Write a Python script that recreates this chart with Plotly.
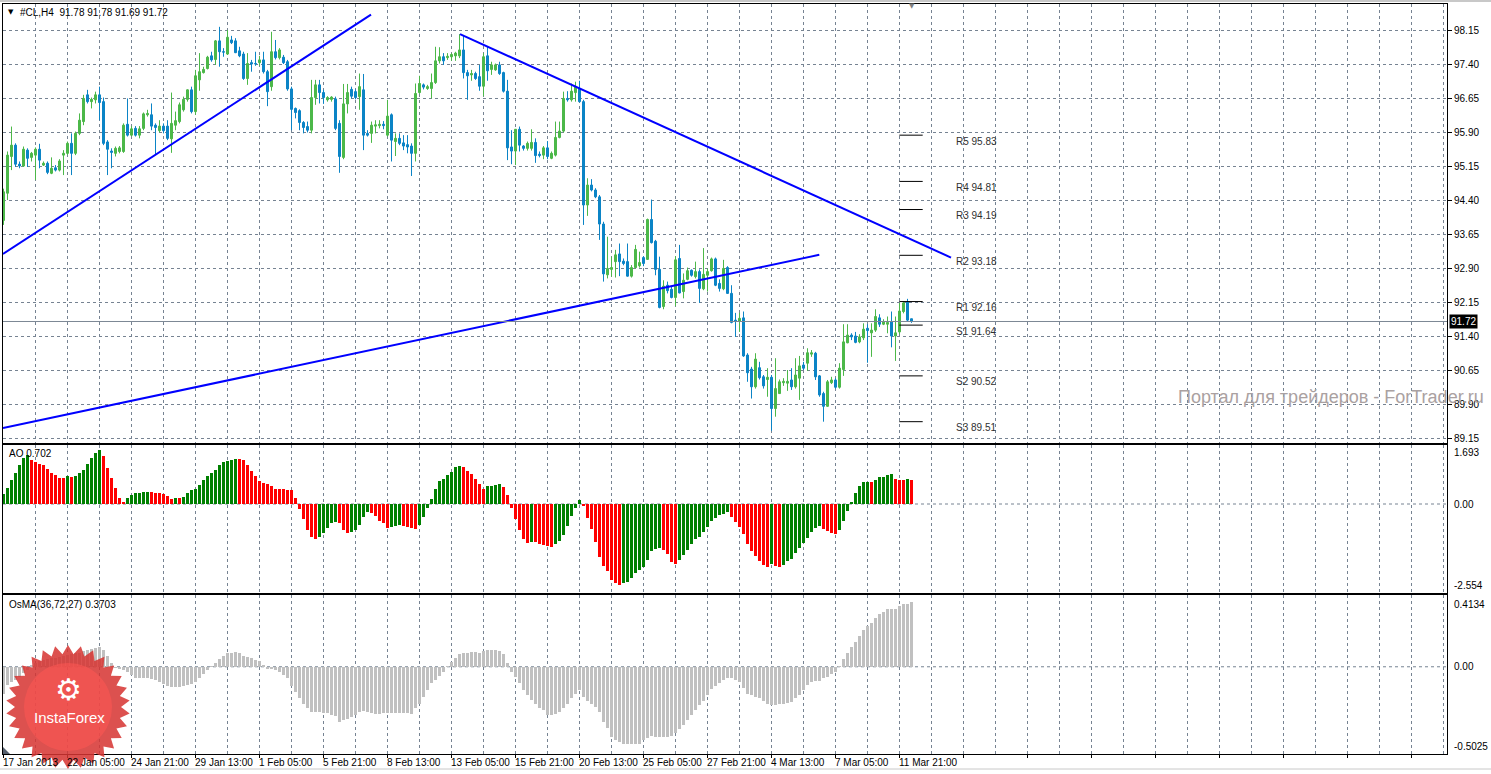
import numpy as np
import plotly.graph_objects as go

# ---------------- data ----------------
symbol = "#CL,H4"

opens = [93.95,94.55,95.36,95.61,95.19,95.15,95.50,95.34,95.39,95.52,
95.17,95.21,94.99,95.11,95.06,95.39,95.43,95.65,95.43,95.87,
96.13,96.72,96.57,96.61,96.72,96.57,95.68,95.48,95.43,95.47,
95.47,96.07,95.83,95.98,95.83,95.98,96.28,96.28,96.05,95.93,
96.03,96.03,95.75,96.05,96.13,96.39,96.62,96.83,96.35,97.05,
97.21,97.30,97.58,97.50,97.91,97.67,97.62,97.93,97.91,97.69,
97.62,97.08,97.43,97.41,97.43,97.49,97.23,96.90,97.67,97.54,
97.55,97.45,96.85,96.42,96.37,96.11,96.02,95.94,96.66,96.94,
96.77,96.61,96.62,96.63,96.09,95.34,96.52,96.84,96.79,96.68,
96.83,95.87,95.87,96.03,96.04,96.07,95.83,96.28,95.69,95.76,
95.66,95.62,95.59,95.43,96.77,96.94,96.86,96.86,96.99,97.47,
97.56,97.54,97.56,97.58,97.58,97.71,97.21,97.16,97.19,97.12,
96.91,97.58,97.28,97.27,97.38,97.21,96.80,95.57,95.48,95.96,
95.59,95.54,95.54,95.67,95.41,95.39,95.55,95.32,95.39,95.78,
95.92,96.64,96.61,96.77,96.86,96.57,94.29,94.73,94.62,94.47,
93.87,92.75,92.87,93.04,93.21,93.05,93.04,92.72,92.91,92.95,
93.13,93.09,93.97,93.49,92.87,92.05,92.52,92.43,92.25,93.11,
92.38,92.65,92.85,92.71,92.82,92.44,92.74,92.84,93.10,92.56,
92.44,92.91,92.34,91.75,91.72,91.80,90.98,90.67,90.28,90.70,
90.50,90.44,90.49,89.80,90.13,90.37,90.36,90.43,90.28,90.47,
90.76,90.80,91.00,91.02,90.52,90.13,89.85,90.37,90.43,90.27,
90.66,91.25,91.42,91.40,91.27,91.36,91.57,91.47,91.53,91.80,
91.66,91.66,91.71,91.40,91.49,91.94,92.15,91.78]

highs = [94.65,95.47,96.02,95.65,95.25,95.58,95.54,95.46,95.56,95.64,
95.25,95.25,95.34,95.17,95.30,95.50,95.69,95.87,95.91,96.31,
96.72,96.83,96.66,96.79,96.90,96.66,95.72,95.54,95.58,95.59,
96.09,96.64,96.03,96.03,96.03,96.33,96.39,96.53,96.09,96.16,
96.09,96.16,96.77,96.35,96.55,96.68,96.84,96.90,97.27,97.64,
97.34,97.58,97.67,97.93,98.22,97.75,98.15,98.02,97.97,97.78,
97.67,97.64,97.49,97.67,97.58,97.67,97.27,98.11,97.93,97.75,
97.60,97.49,96.90,96.44,96.40,96.14,96.13,97.05,97.05,97.05,
96.83,96.69,96.69,96.68,96.16,96.96,96.96,96.90,96.84,97.19,
97.18,95.94,96.13,96.16,96.16,96.14,96.61,96.31,95.87,95.87,
95.83,95.83,95.65,96.97,97.14,96.97,96.94,97.19,97.78,97.77,
97.64,97.64,97.64,97.67,98.06,98.04,97.27,97.27,97.23,97.38,
97.64,97.78,97.45,97.41,97.45,97.23,97.05,95.94,95.96,96.02,
95.61,95.69,95.96,95.76,95.47,95.59,95.70,95.47,96.13,96.13,
96.79,96.80,96.97,97.01,97.03,96.61,94.88,94.86,94.66,94.51,
93.92,93.59,93.15,93.30,93.44,93.11,93.44,92.965,93.41,93.26,
93.16,93.99,94.41,93.52,93.15,92.63,92.60,92.49,93.16,93.41,
92.78,92.91,92.87,93.04,92.87,93.34,92.89,93.13,93.13,92.65,
93.08,92.94,92.52,91.91,91.91,91.94,91.02,90.72,91.02,90.83,
90.54,90.69,90.54,90.91,90.44,90.47,90.65,90.69,90.91,90.96,
90.83,91.13,91.09,91.05,90.54,90.17,90.43,90.50,90.47,90.80,
91.66,91.66,91.46,91.49,91.44,91.68,91.66,91.68,91.99,91.88,
91.77,91.83,91.94,91.83,92.13,92.16,92.22,91.78]

lows = [93.85,94.40,95.06,95.13,95.10,95.13,95.13,95.25,94.84,95.10,
95.15,94.97,94.97,95.03,95.03,94.95,95.39,94.95,95.39,95.83,
96.05,96.53,96.42,96.53,96.16,95.61,94.95,95.10,95.36,95.43,
95.44,95.80,95.80,95.80,95.76,95.94,96.24,95.94,95.39,95.89,
95.87,95.72,95.44,95.94,96.09,96.35,96.57,96.31,96.28,96.81,
97.19,97.28,97.45,97.38,97.34,97.56,97.60,97.84,97.64,97.55,
97.05,96.94,97.23,97.36,97.36,97.19,96.47,96.81,97.50,97.50,
97.40,96.81,95.94,96.20,95.94,95.87,95.89,95.87,96.50,96.53,
96.52,96.57,96.57,95.94,95.00,95.30,96.31,96.64,96.62,96.39,
95.50,95.80,95.66,95.87,95.98,95.96,95.80,95.25,95.37,95.61,
95.50,95.43,94.93,95.25,96.74,96.84,96.83,96.64,96.96,97.41,
97.38,97.49,97.47,97.47,97.53,97.08,96.61,97.03,97.05,96.81,
96.69,97.03,97.16,97.25,97.16,96.77,95.28,95.19,95.17,95.47,
95.49,95.49,95.49,95.22,95.34,95.30,95.30,95.30,95.36,95.76,
95.89,96.57,96.57,96.57,96.55,93.85,94.05,94.59,94.44,93.52,
92.60,92.67,92.71,92.69,92.72,92.96,92.71,92.69,92.89,92.91,
92.94,93.08,93.44,92.74,92.01,91.99,92.34,92.23,92.06,92.34,
92.23,92.63,92.71,92.67,92.13,92.41,92.38,92.82,92.50,92.38,
92.41,92.33,91.68,91.38,91.49,90.94,90.39,90.02,90.24,90.44,
90.24,90.06,89.31,89.62,90.13,90.30,90.19,90.21,90.24,89.99,
90.65,90.63,90.94,90.43,90.06,89.51,89.84,90.34,90.24,90.24,
90.52,91.24,91.31,91.24,91.24,91.31,90.81,90.94,91.49,91.60,
91.64,91.46,91.15,90.85,91.44,91.90,91.73,91.69]

closes = [94.58,95.39,95.61,95.19,95.15,95.52,95.32,95.43,95.52,95.28,
95.21,95.01,95.10,95.06,95.26,95.43,95.65,95.43,95.87,96.16,
96.64,96.57,96.62,96.72,96.55,95.65,95.52,95.45,95.54,95.55,
96.05,95.83,95.97,95.83,95.97,96.30,96.31,96.03,96.00,96.03,
95.93,95.76,96.09,96.15,96.50,96.62,96.83,96.35,97.14,97.23,
97.28,97.55,97.49,97.91,97.67,97.66,97.99,97.87,97.65,97.58,
97.08,97.41,97.40,97.40,97.49,97.23,96.79,97.67,97.54,97.71,
97.43,96.85,96.40,96.33,96.11,96.00,95.94,96.66,96.94,96.77,
96.66,96.66,96.67,95.98,95.36,96.52,96.77,96.69,96.66,96.90,
95.83,95.83,96.05,96.06,96.07,96.04,96.25,95.72,95.76,95.65,
95.59,95.57,95.43,96.75,96.97,96.89,96.90,96.99,97.47,97.56,
97.47,97.57,97.61,97.64,97.71,97.21,97.14,97.19,97.08,96.91,
97.56,97.25,97.38,97.38,97.19,96.80,95.55,95.48,95.96,95.61,
95.54,95.65,95.67,95.38,95.38,95.55,95.36,95.43,95.78,95.92,
96.64,96.61,96.80,96.90,96.57,94.29,94.73,94.62,94.47,93.87,
92.77,92.89,92.91,93.19,93.04,93.00,92.72,92.91,93.31,93.02,
93.00,93.97,93.46,92.87,92.03,92.50,92.40,92.25,93.08,92.35,
92.63,92.84,92.74,92.82,92.45,92.76,92.82,93.10,92.52,92.45,
92.89,92.34,91.70,91.72,91.79,90.96,90.59,90.28,90.89,90.48,
90.30,90.49,89.80,90.24,90.39,90.40,90.40,90.28,90.54,90.74,
90.69,91.03,91.03,90.50,90.10,89.85,90.39,90.43,90.27,90.69,
91.27,91.42,91.38,91.26,91.38,91.55,91.52,91.53,91.83,91.66,
91.71,91.70,91.40,91.47,91.95,92.13,91.75,91.72]

# Awesome Oscillator values
ao = [0.29,0.45,0.69,0.88,1.12,1.31,1.41,1.26,1.21,1.16,
1.12,1.01,0.88,0.84,0.76,0.74,0.80,0.78,0.80,0.88,
0.99,1.15,1.31,1.45,1.54,1.38,1.03,0.74,0.45,0.16,
0.05,0.16,0.25,0.31,0.33,0.34,0.35,0.34,0.32,0.31,
0.29,0.23,0.15,0.17,0.165,0.20,0.31,0.40,0.43,0.55,
0.69,0.80,0.90,0.99,1.12,1.21,1.22,1.26,1.29,1.28,
1.25,1.12,0.95,0.80,0.66,0.59,0.56,0.52,0.44,0.43,
0.42,0.40,0.39,0.18,-0.15,-0.42,-0.75,-0.94,-0.99,-0.94,
-0.83,-0.68,-0.55,-0.51,-0.55,-0.76,-0.83,-0.79,-0.75,-0.60,
-0.36,-0.22,-0.25,-0.35,-0.48,-0.55,-0.70,-0.67,-0.63,-0.61,
-0.63,-0.67,-0.70,-0.73,-0.60,-0.36,-0.11,0.15,0.43,0.66,
0.71,0.84,0.93,1.05,1.09,1.07,0.95,0.86,0.71,0.56,
0.43,0.52,0.525,0.55,0.57,0.49,0.25,-0.12,-0.43,-0.75,
-1.01,-1.12,-1.08,-1.09,-1.15,-1.17,-1.21,-1.24,-1.15,-1.06,
-0.89,-0.63,-0.35,-0.12,0.12,-0.05,-0.40,-0.72,-1.09,-1.52,
-1.78,-1.93,-2.18,-2.27,-2.32,-2.27,-2.23,-2.12,-1.97,-1.89,
-1.80,-1.61,-1.35,-1.28,-1.26,-1.32,-1.44,-1.66,-1.72,-1.61,
-1.46,-1.32,-1.15,-0.99,-0.94,-0.80,-0.66,-0.49,-0.40,-0.32,
-0.29,-0.23,-0.37,-0.52,-0.66,-0.86,-1.15,-1.35,-1.49,-1.64,
-1.75,-1.80,-1.72,-1.78,-1.82,-1.75,-1.64,-1.58,-1.41,-1.26,
-1.12,-0.97,-0.80,-0.69,-0.63,-0.72,-0.77,-0.84,-0.86,-0.75,
-0.49,-0.20,0.05,0.32,0.52,0.63,0.64,0.63,0.69,0.77,
0.78,0.84,0.86,0.72,0.69,0.68,0.72,0.702]

# OsMA(36,72,27) values
osma = [-0.157,-0.105,-0.089,-0.077,-0.058,-0.038,-0.020,0.010,0.020,0.033,
0.038,0.044,0.048,0.052,0.058,0.063,0.067,0.071,0.077,0.082,
0.090,0.096,0.102,0.110,0.112,0.096,0.063,0.020,-0.005,-0.013,
-0.020,-0.029,-0.048,-0.063,-0.063,-0.063,-0.067,-0.071,-0.077,-0.087,
-0.102,-0.110,-0.115,-0.117,-0.117,-0.113,-0.105,-0.102,-0.090,-0.063,
-0.044,-0.017,0.005,0.023,0.044,0.062,0.077,0.082,0.085,0.077,
0.063,0.055,0.048,0.038,0.033,0.013,-0.010,-0.013,-0.021,-0.033,
-0.048,-0.067,-0.110,-0.144,-0.182,-0.212,-0.240,-0.259,-0.263,-0.263,
-0.265,-0.269,-0.275,-0.282,-0.317,-0.307,-0.302,-0.290,-0.279,-0.263,
-0.255,-0.263,-0.269,-0.271,-0.271,-0.269,-0.267,-0.267,-0.265,-0.267,
-0.269,-0.269,-0.271,-0.240,-0.212,-0.173,-0.135,-0.096,-0.077,-0.052,
-0.033,0.004,0.029,0.052,0.071,0.077,0.082,0.087,0.087,0.082,
0.090,0.096,0.096,0.094,0.090,0.073,0.020,-0.029,-0.058,-0.096,
-0.135,-0.163,-0.192,-0.212,-0.237,-0.250,-0.275,-0.275,-0.271,-0.263,
-0.240,-0.217,-0.182,-0.155,-0.135,-0.173,-0.198,-0.217,-0.230,-0.263,
-0.317,-0.355,-0.404,-0.422,-0.432,-0.442,-0.447,-0.447,-0.446,-0.442,
-0.422,-0.409,-0.397,-0.404,-0.404,-0.404,-0.404,-0.401,-0.379,-0.359,
-0.336,-0.307,-0.275,-0.250,-0.221,-0.198,-0.163,-0.129,-0.110,-0.096,
-0.077,-0.063,-0.067,-0.077,-0.087,-0.125,-0.154,-0.163,-0.173,-0.182,
-0.198,-0.212,-0.221,-0.221,-0.217,-0.212,-0.207,-0.202,-0.182,-0.163,
-0.135,-0.105,-0.090,-0.082,-0.082,-0.067,-0.058,-0.042,-0.029,0.005,
0.044,0.082,0.115,0.144,0.177,0.212,0.234,0.254,0.279,0.302,
0.317,0.330,0.330,0.330,0.349,0.359,0.362,0.3703]

date_labels = ["17 Jan 2013", "22 Jan 05:00", "24 Jan 21:00", "29 Jan 13:00",
               "1 Feb 05:00", "5 Feb 21:00", "8 Feb 13:00", "13 Feb 05:00",
               "15 Feb 21:00", "20 Feb 13:00", "25 Feb 05:00", "27 Feb 21:00",
               "4 Mar 13:00", "7 Mar 05:00", "11 Mar 21:00"]
bars_per_label = 16
bars_per_grid = 8

price_ticks = [98.15, 97.40, 96.65, 95.90, 95.15, 94.40, 93.65, 92.90,
               92.15, 91.40, 90.65, 89.90, 89.15]

pivot_names = ["R5", "R4", "R3", "R2", "R1", "S1", "S2", "S3"]
pivot_values = [95.83, 94.81, 94.19, 93.18, 92.16, 91.64, 90.52, 89.51]

# trend lines (bar index, price)
trend_start_bar = [-0.125, 114.125, -0.125]
trend_start_price = [93.21, 98.06, 89.37]
trend_end_bar = [91.875, 236.875, 203.95]
trend_end_price = [98.49, 93.13, 93.19]

ao_window = [-2.554, 1.693]
osma_window = [-0.5025, 0.4134]
main_window = [89.0397, 98.7235]

assert len(opens) == len(highs) == len(lows) == len(closes) == len(ao) == len(osma), \
    (len(opens), len(highs), len(lows), len(closes), len(ao), len(osma))

# ---------------- styling / layout constants ----------------
W, H = 1491, 774
ML, MR, MT, MB = 3, 44, 4, 20
PW, PH = W - ML - MR, H - MT - MB
X_RANGE = [-0.125, 360.875]
C_BULL = "#4cb849"
C_BEAR = "#0b84c6"
C_GRID = "#768392"
GRID_DASH = "3px,3px"
FONT = "Liberation Sans, Arial, sans-serif"


def pxx(x):
    return (x - ML) / PW


def pxy(y):
    return 1 - (y - MT) / PH


n = len(closes)
idx = list(range(n))

fig = go.Figure()

# ---- candles ----
bull = [c >= o for o, c in zip(opens, closes)]
body_base = [min(o, c) for o, c in zip(opens, closes)]
body_h = [max(abs(c - o), 0.012) for o, c in zip(opens, closes)]
body_col = [C_BULL if b else C_BEAR for b in bull]

for want, col in ((True, C_BULL), (False, C_BEAR)):
    wx, wy = [], []
    for i in idx:
        if bull[i] == want:
            wx += [i, i, None]
            wy += [lows[i], highs[i], None]
    fig.add_trace(go.Scatter(x=wx, y=wy, mode="lines", line=dict(color=col, width=1),
                             hoverinfo="skip", showlegend=False, xaxis="x", yaxis="y"))

fig.add_trace(go.Bar(x=idx, y=body_h, base=body_base, width=0.5,
                     marker=dict(color=body_col, line=dict(color=body_col, width=1)),
                     hoverinfo="skip", showlegend=False, xaxis="x", yaxis="y"))

# ---- trend lines ----
for xs, ys, xe, ye in zip(trend_start_bar, trend_start_price, trend_end_bar, trend_end_price):
    fig.add_trace(go.Scatter(x=[xs, xe], y=[ys, ye], mode="lines",
                             line=dict(color="#0000ff", width=2),
                             hoverinfo="skip", showlegend=False, xaxis="x", yaxis="y"))

# ---- pivot levels ----
pivot_x0, pivot_x1, pivot_label_x = 223.95, 229.8, 237.6
pvx, pvy = [], []
for v in pivot_values:
    pvx += [pivot_x0, pivot_x1, None]
    pvy += [v, v, None]
fig.add_trace(go.Scatter(x=pvx, y=pvy, mode="lines", line=dict(color="black", width=1),
                         hoverinfo="skip", showlegend=False, xaxis="x", yaxis="y"))

# ---- AO ----
ao_col = ["#008000"] + ["#008000" if ao[i] > ao[i - 1] else "#ff0000" for i in range(1, n)]
fig.add_trace(go.Bar(x=idx, y=ao, width=0.75, marker=dict(color=ao_col, line=dict(width=0)),
                     hoverinfo="skip", showlegend=False, xaxis="x2", yaxis="y2"))

# ---- OsMA ----
fig.add_trace(go.Bar(x=idx, y=osma, width=0.75, marker=dict(color="#c0c0c0", line=dict(width=0)),
                     hoverinfo="skip", showlegend=False, xaxis="x3", yaxis="y3"))

# ---------------- axes ----------------
xcommon = dict(range=X_RANGE, tick0=0, dtick=bars_per_label, showgrid=True, gridcolor=C_GRID,
               griddash=GRID_DASH, gridwidth=1, zeroline=False, showticklabels=False,
               showline=True, mirror=True, linecolor="black", linewidth=1,
               minor=dict(dtick=bars_per_grid, tick0=0, showgrid=True, gridcolor=C_GRID,
                          griddash=GRID_DASH, gridwidth=1, ticks=""),
               fixedrange=True)

fig.update_layout(
    width=W, height=H,
    margin=dict(l=ML, r=MR, t=MT, b=MB, pad=0),
    paper_bgcolor="white", plot_bgcolor="white",
    barmode="overlay", bargap=0,
    showlegend=False,
    font=dict(family=FONT, size=10, color="black"),
    xaxis=dict(domain=[0, 1], anchor="y", ticks="", **xcommon),
    xaxis2=dict(domain=[0, 1], anchor="y2", ticks="", **xcommon),
    xaxis3=dict(domain=[0, 1], anchor="y3", ticks="outside", ticklen=3, tickcolor="black", **xcommon),
    yaxis=dict(domain=[pxy(443), 1], anchor="x", side="right", range=main_window,
               tickvals=price_ticks, ticktext=[f"{v:.2f}" for v in price_ticks],
               ticks="outside", ticklen=4, tickcolor="black",
               tickfont=dict(family=FONT, size=10, color="black"),
               showgrid=True, gridcolor=C_GRID, griddash=GRID_DASH, gridwidth=1,
               zeroline=False, showline=True, mirror=True, linecolor="black", linewidth=1,
               fixedrange=True),
    yaxis2=dict(domain=[pxy(593), pxy(445)], anchor="x2", side="right", range=ao_window,
                showticklabels=False, showgrid=False, zeroline=False, ticks="",
                showline=True, mirror=True, linecolor="black", linewidth=1, fixedrange=True),
    yaxis3=dict(domain=[0, pxy(595)], anchor="x3", side="right", range=osma_window,
                showticklabels=False, showgrid=False, zeroline=False, ticks="",
                showline=True, mirror=True, linecolor="black", linewidth=1, fixedrange=True),
)

shapes = []
# zero lines of the indicator windows
for yr, xr in (("y2", "x2 domain"), ("y3", "x3 domain")):
    shapes.append(dict(type="line", xref=xr, yref=yr, x0=0, x1=1, y0=0, y1=0,
                       line=dict(color=C_GRID, width=1, dash=GRID_DASH), layer="below"))
# current price line
shapes.append(dict(type="line", xref="x domain", yref="y", x0=0, x1=1,
                   y0=closes[-1], y1=closes[-1], line=dict(color="#7c8794", width=1)))
# window borders (outer)
shapes.append(dict(type="line", xref="paper", yref="paper", x0=pxx(0), x1=pxx(W),
                   y0=pxy(769), y1=pxy(769), line=dict(color="#c8c8c8", width=1)))
shapes.append(dict(type="line", xref="paper", yref="paper", x0=pxx(0), x1=pxx(W),
                   y0=pxy(1), y1=pxy(1), line=dict(color="#c8c8c8", width=2)))
# small corner marker in OsMA window
shapes.append(dict(type="path", xref="paper", yref="paper",
                   path=f"M {pxx(3)},{pxy(754)} L {pxx(3)},{pxy(747)} L {pxx(10)},{pxy(754)} Z",
                   fillcolor="#56606e", line=dict(width=0)))

# InstaForex badge (decoration)
cx, cy, R_out, R_in, N = 68, 707, 62, 53, 30
ang = np.linspace(0, 2 * np.pi, 2 * N, endpoint=False) - np.pi / 2
rad = np.where(np.arange(2 * N) % 2 == 0, R_out, R_in)
pts = [f"{pxx(cx + r * np.cos(a)):.5f},{pxy(cy + r * np.sin(a)):.5f}" for r, a in zip(rad, ang)]
shapes.append(dict(type="path", xref="paper", yref="paper", path="M " + " L ".join(pts) + " Z",
                   fillcolor="rgba(214,52,50,0.86)", line=dict(width=0), layer="above"))
shapes.append(dict(type="circle", xref="paper", yref="paper",
                   x0=pxx(cx - 44), x1=pxx(cx + 44), y0=pxy(cy + 44), y1=pxy(cy - 44),
                   fillcolor="rgba(255,88,84,0.55)", line=dict(width=0), layer="above"))
fig.update_layout(shapes=shapes)

ann = []
# header
ann.append(dict(xref="paper", yref="paper", x=pxx(6), y=pxy(12), xanchor="left", yanchor="middle",
                text="▼", showarrow=False, font=dict(family="DejaVu Sans", size=7, color="black")))
ann.append(dict(xref="paper", yref="paper", x=pxx(18), y=pxy(12), xanchor="left", yanchor="middle",
                text=f"{symbol}\u00a0\u00a0{opens[-1]:.2f} {highs[-1]:.2f} {lows[-1]:.2f} {closes[-1]:.2f}",
                showarrow=False, font=dict(family=FONT, size=10, color="black")))
ann.append(dict(xref="paper", yref="paper", x=pxx(912), y=pxy(6), xanchor="center", yanchor="middle",
                text="▼", showarrow=False, font=dict(family="DejaVu Sans", size=7, color="#808080")))
ann.append(dict(xref="paper", yref="paper", x=pxx(7), y=pxy(453), xanchor="left", yanchor="middle",
                text=f"AO {ao[-1]:.3f}", showarrow=False, font=dict(family=FONT, size=10, color="black")))
ann.append(dict(xref="paper", yref="paper", x=pxx(7), y=pxy(604), xanchor="left", yanchor="middle",
                text=f"OsMA(36,72,27) {osma[-1]:.4f}", showarrow=False,
                font=dict(family=FONT, size=10, color="black")))

# indicator scale labels
for yr, lo, hi, fmt, sh_top, sh_bot in (("y2", ao_window[0], ao_window[1], "{:.3f}", -7, 8),
                                         ("y3", osma_window[0], osma_window[1], "{:.4f}", -9, 8)):
    for val, txt, sh in ((hi, fmt.format(hi), sh_top), (0.0, "0.00", 0), (lo, fmt.format(lo), sh_bot)):
        ann.append(dict(xref="paper", yref=yr, x=pxx(1452), y=val, xanchor="left", yanchor="middle",
                        yshift=sh, text=txt, showarrow=False,
                        font=dict(family=FONT, size=10, color="black")))

# current price box
ann.append(dict(xref="paper", yref="y", x=pxx(1449), y=closes[-1], xanchor="left", yanchor="middle",
                text=f"{closes[-1]:.2f}", showarrow=False, bgcolor="black", borderpad=1,
                font=dict(family=FONT, size=10, color="white")))

# pivot labels
for nm, v in zip(pivot_names, pivot_values):
    ann.append(dict(xref="x", yref="y", x=pivot_label_x, y=v, xanchor="left", yanchor="middle",
                    yshift=-6, text=f"{nm} {v:.2f}", showarrow=False,
                    font=dict(family=FONT, size=10, color="#303030")))

# date labels
for k, lab in enumerate(date_labels):
    ann.append(dict(xref="x3", yref="paper", x=k * bars_per_label, y=pxy(756), xanchor="left",
                    yanchor="top", xshift=-2, borderpad=0, text=lab, showarrow=False,
                    font=dict(family=FONT, size=10, color="black")))

# watermark (drawn across the price scale, as in the reference)
ann.append(dict(xref="paper", yref="paper", x=pxx(1486), y=pxy(397), xanchor="right", yanchor="middle",
                text="Портал для трейдеров - ForTrader.ru", showarrow=False,
                font=dict(family=FONT, size=18, color="#aaa1a1")))

# badge texts
ann.append(dict(xref="paper", yref="paper", x=pxx(cx), y=pxy(689), xanchor="center", yanchor="middle",
                text="⚙", showarrow=False, font=dict(family="DejaVu Sans", size=30, color="white")))
ann.append(dict(xref="paper", yref="paper", x=pxx(cx + 1), y=pxy(717), xanchor="center", yanchor="middle",
                text="InstaForex", showarrow=False, font=dict(family=FONT, size=15, color="white")))

fig.update_layout(annotations=ann)

fig.write_html("out.html", config={"displayModeBar": False, "staticPlot": True},
               post_script="document.body.style.margin='0px';document.body.style.overflow='hidden';")
